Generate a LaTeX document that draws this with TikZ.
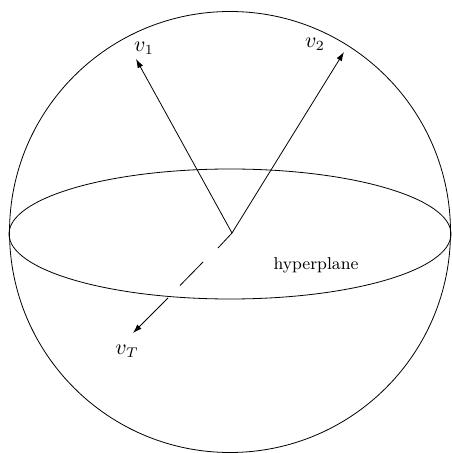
\documentclass[tikz,border=0pt]{standalone}
\usetikzlibrary{arrows.meta}
\begin{document}
\begin{tikzpicture}[x=0.5pt,y=-0.5pt,
  line/.style={line width=0.4pt,black},
  vec/.style={line width=0.4pt,-{Latex[length=4.5pt,width=3pt]}},
  lbl/.style={inner sep=0pt,font=\fontsize{10.5}{12}\selectfont},
  txt/.style={inner sep=0pt,font=\fontsize{8.6}{10}\selectfont}]
\useasboundingbox (0,0) rectangle (451,453);
\coordinate (c) at (230,232);
\draw[line] (c) circle [radius=220.5];
\draw[line] (230,234) ellipse [x radius=221, y radius=65];
\coordinate (o) at (232,233);
\coordinate (t1) at (136,59);
\coordinate (t2) at (344,52);
\coordinate (tT) at (133,333);
\draw[vec] (o) -- (t1);
\draw[vec] (o) -- (t2);
\draw[line] (o) -- (218,248);
\draw[line] (203,262) -- (180,285.5);
\draw[vec] (168,298) -- (tT);
\node[lbl] (l1) at (144,48) {$v_1$};
\node[lbl] (l2) at (315,44) {$v_2$};
\node[lbl] (lT) at (127,351) {$v_T$};
\node[txt] (hp) at (316,265) {hyperplane};
\end{tikzpicture}
\end{document}
